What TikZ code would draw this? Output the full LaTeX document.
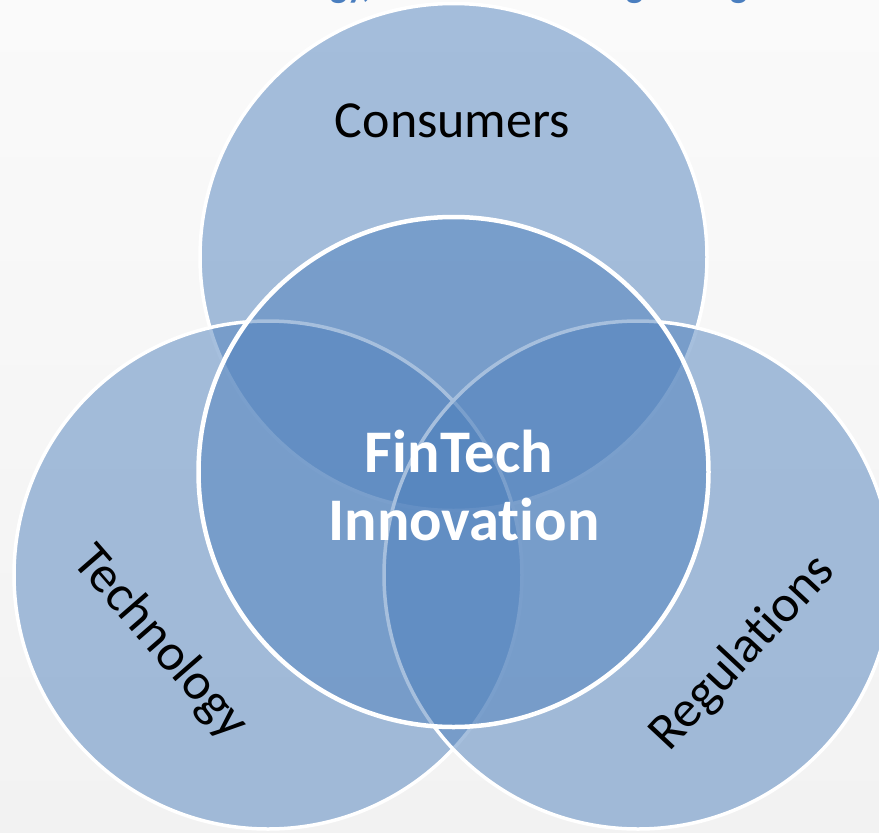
\documentclass[tikz,border=0pt]{standalone}
\usepackage{fontspec}
\setmainfont[RawFeature={-liga;-clig;-dlig}]{Carlito}
\definecolor{acc}{HTML}{4F81BD}
\definecolor{titleblue}{HTML}{4A7EBF}
\definecolor{bgtop}{HTML}{FAFAFA}
\definecolor{bgbot}{HTML}{F2F2F2}
\tikzset{
  outercirc/.style={fill=acc, fill opacity=0.5, draw=white, draw opacity=1, line width=3.5pt},
  innercirc/.style={fill=acc, fill opacity=0.5, draw=white, draw opacity=1, line width=4.5pt},
  lbl/.style={text=black, font=\fontsize{52}{60}\selectfont, inner sep=0pt},
  centerlbl/.style={text=white, font=\fontsize{60.5}{68}\selectfont\bfseries, inner sep=0pt},
  titlelbl/.style={text=titleblue, font=\fontsize{36.2}{42}\selectfont\bfseries, inner sep=0pt}
}
\begin{document}
\begin{tikzpicture}[x=1pt,y=-1pt]
\useasboundingbox (0,0) rectangle (879,833);
\shade[top color=bgtop, bottom color=bgbot] (0,0) rectangle (879,833);
% title (cropped at the top edge)
\node[titlelbl, anchor=base west] (title) at (195,-3) {Technology, Consumers \& Regulating};
% circles
\path[outercirc] (453.5,257) circle[radius=253.5pt];
\path[outercirc] (268,575) circle[radius=254pt];
\path[outercirc] (638,575) circle[radius=254pt];
\path[innercirc] (453.5,472) circle[radius=255pt];
% labels
\node[lbl, anchor=base] (cons) at (452.5,137) {Consumers};
\node[lbl, rotate=-49] (tech) at (160,643) {Technology};
\node[lbl, rotate=47] (reg) at (743,653) {Regulations};
\node[centerlbl, anchor=base] (fin) at (459,472) {FinTech};
\node[centerlbl, anchor=base] (inno) at (464,540) {Innovation};
\end{tikzpicture}
\end{document}
